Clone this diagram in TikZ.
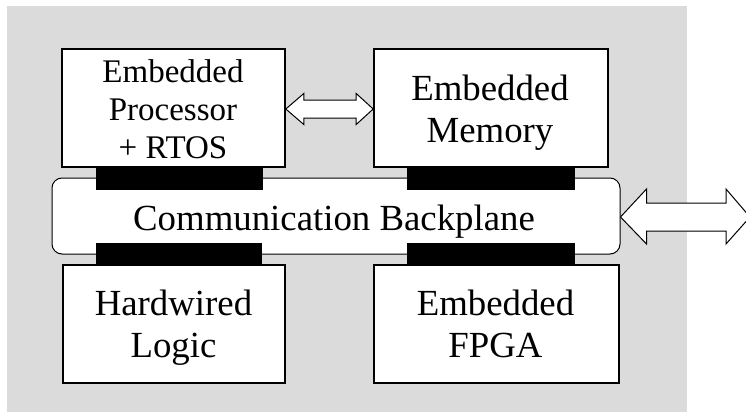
\documentclass[tikz,border=0pt]{standalone}
\usepackage{fontspec}
\setmainfont{Liberation Serif}
\usetikzlibrary{calc}
\newcommand{\bigtext}{\fontsize{36.8}{42}\selectfont}
\newcommand{\proctext}{\fontsize{33}{38}\selectfont}
\newcommand{\stack}[1]{\begin{tabular}[t]{@{}c@{}}#1\end{tabular}}
\tikzset{
  unitbox/.style={draw=black, line width=1.6pt, fill=white, inner sep=0pt},
  boxtext/.style={inner sep=0pt, anchor=base, font=\bigtext},
  pad/.style={fill=black, draw=none, inner sep=0pt},
  bus/.style={draw=black, line width=1pt, fill=white, rounded corners=10pt,
    inner sep=0pt},
  fatarrow/.style={draw=black, line width=1pt, fill=white, line join=miter}
}
\begin{document}
\begin{tikzpicture}[x=1pt, y=-1pt]
  \useasboundingbox (0,0) rectangle (746,412);
  % chip area
  \fill[black!14] (7,6) rectangle (687,412);

  % on-chip bus
  \node[bus, minimum width=568pt, minimum height=76pt] (bus) at (336,216) {};
  \node[boxtext] (buslabel) at (334,230) {Communication Backplane};

  % bus interface pads
  \node[pad, minimum width=167pt, minimum height=23pt] (padA) at (179.5,178.5) {};
  \node[pad, minimum width=168pt, minimum height=23pt] (padB) at (491,178.5) {};
  \node[pad, minimum width=166pt, minimum height=22pt] (padC) at (179,254) {};
  \node[pad, minimum width=168pt, minimum height=22pt] (padD) at (491,254) {};

  % functional blocks
  \node[unitbox, minimum width=223pt, minimum height=118pt] (proc) at (173.5,108) {};
  \node[unitbox, minimum width=234pt, minimum height=118pt] (mem) at (491,108) {};
  \node[unitbox, minimum width=222pt, minimum height=118pt] (hw) at (174,324) {};
  \node[unitbox, minimum width=245pt, minimum height=118pt] (fpga) at (496.5,324) {};

  % block captions (positioned by the baseline of their first line)
  \node[boxtext, font=\proctext] (proctext) at (173,82)
    {\stack{Embedded\\Processor\\+ RTOS}};
  \node[boxtext] (memtext) at (490,100.5) {\stack{Embedded\\Memory}};
  \node[boxtext] (hwtext) at (173.5,315) {\stack{Hardwired\\Logic}};
  \node[boxtext] (fpgatext) at (495.5,315) {\stack{Embedded\\FPGA}};

  % processor <-> memory link
  \coordinate (pL) at ($(proc.east)+(0,1)$);
  \coordinate (pR) at ($(mem.west)+(0,1)$);
  \draw[fatarrow] (pL) -- ++(18,-15.5) -- ++(0,6.5) -- ($(pR)+(-17,-9)$)
    -- ++(0,-6.5) -- (pR) -- ++(-17,15.5) -- ++(0,-6.5) -- ($(pL)+(18,9)$)
    -- ++(0,6.5) -- cycle;

  % off-chip link
  \coordinate (oL) at ($(bus.east)+(0,1)$);
  \coordinate (oR) at (750,217);
  \draw[fatarrow] (oL) -- ++(26,-28) -- ++(0,14) -- ($(oR)+(-24,-14)$)
    -- ++(0,-14) -- (oR) -- ++(-24,27) -- ++(0,-13) -- ($(oL)+(26,14)$)
    -- ++(0,13) -- cycle;
\end{tikzpicture}
\end{document}
